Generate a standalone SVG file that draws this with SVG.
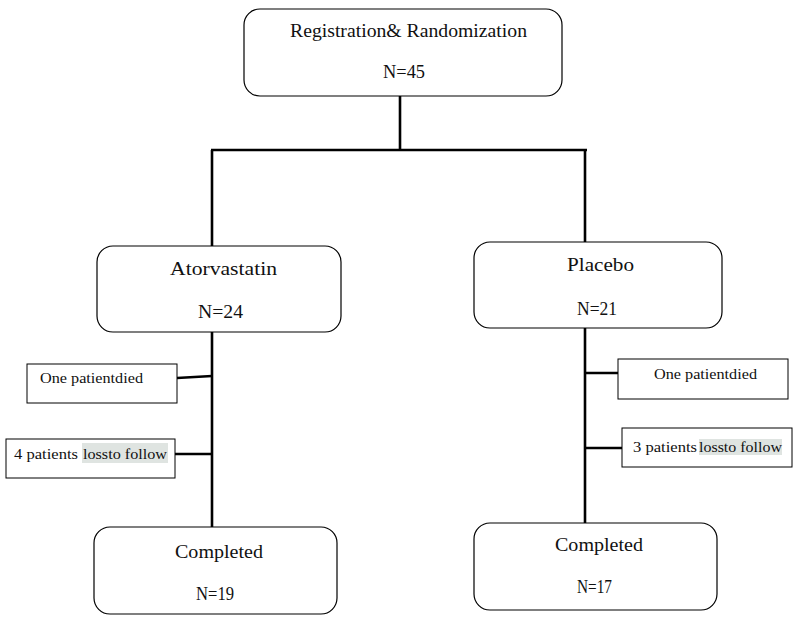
<svg xmlns="http://www.w3.org/2000/svg" width="794" height="629" viewBox="0 0 794 629">
<style>
.box{fill:#fff;stroke:#000;stroke-width:1.2}
.side{fill:#fff;stroke:#000;stroke-width:1}
.big{font-family:"Liberation Serif","DejaVu Serif",serif;font-size:18px;fill:#111}
.small{font-family:"Liberation Serif","DejaVu Serif",serif;font-size:15px;fill:#111}
.hl{fill:#dfe4e1}
.conn{stroke:#000;stroke-width:2.6;fill:none}
</style>
<rect width="794" height="629" fill="#fff"/>
<g id="connectors">
<line class="conn" x1="400" y1="96" x2="400" y2="150"/>
<line class="conn" x1="211" y1="150" x2="587" y2="150"/>
<line class="conn" x1="212" y1="150" x2="212" y2="246"/>
<line class="conn" x1="585" y1="150" x2="585" y2="242"/>
<line class="conn" x1="212" y1="332" x2="212" y2="527"/>
<line class="conn" x1="585" y1="328" x2="585" y2="523"/>
<line class="conn" x1="177" y1="378" x2="212" y2="376"/>
<line class="conn" x1="175" y1="454" x2="212" y2="454"/>
<line class="conn" x1="585" y1="373" x2="618" y2="373"/>
<line class="conn" x1="585" y1="448" x2="622" y2="448"/>
</g>
<g id="registration">
<rect class="box" x="244" y="9" width="318" height="87" rx="16"/>
<text class="big" x="290" y="37" textLength="237" lengthAdjust="spacingAndGlyphs">Registration&amp; Randomization</text>
<text class="big" x="383" y="78" textLength="42" lengthAdjust="spacingAndGlyphs">N=45</text>
</g>
<g id="atorvastatin">
<rect class="box" x="97" y="246" width="244" height="86" rx="16"/>
<text class="big" x="170" y="275" textLength="107" lengthAdjust="spacingAndGlyphs">Atorvastatin</text>
<text class="big" x="198" y="318" textLength="45" lengthAdjust="spacingAndGlyphs">N=24</text>
</g>
<g id="placebo">
<rect class="box" x="474" y="242" width="248" height="86" rx="16"/>
<text class="big" x="567" y="271" textLength="67" lengthAdjust="spacingAndGlyphs">Placebo</text>
<text class="big" x="577" y="315" textLength="40" lengthAdjust="spacingAndGlyphs">N=21</text>
</g>
<g id="died-left">
<rect class="side" x="27" y="364" width="150" height="39"/>
<text class="small" x="40" y="383" textLength="103" lengthAdjust="spacingAndGlyphs">One patientdied</text>
</g>
<g id="loss-left">
<rect class="side" x="6" y="439" width="169" height="39"/>
<rect class="hl" x="82" y="443" width="86" height="20"/>
<text class="small" x="14" y="459" textLength="64" lengthAdjust="spacingAndGlyphs">4 patients</text>
<text class="small" x="83" y="459" textLength="84" lengthAdjust="spacingAndGlyphs">lossto follow</text>
</g>
<g id="died-right">
<rect class="side" x="618" y="359" width="170" height="40"/>
<text class="small" x="654" y="379" textLength="103" lengthAdjust="spacingAndGlyphs">One patientdied</text>
</g>
<g id="loss-right">
<rect class="side" x="622" y="428" width="170" height="39"/>
<rect class="hl" x="699" y="439" width="83" height="16"/>
<text class="small" x="633" y="452" textLength="64" lengthAdjust="spacingAndGlyphs">3 patients</text>
<text class="small" x="699" y="452" textLength="83" lengthAdjust="spacingAndGlyphs">lossto follow</text>
</g>
<g id="completed-left">
<rect class="box" x="94" y="527" width="243" height="87" rx="16"/>
<text class="big" x="175" y="558" textLength="88" lengthAdjust="spacingAndGlyphs">Completed</text>
<text class="big" x="196" y="600" textLength="38" lengthAdjust="spacingAndGlyphs">N=19</text>
</g>
<g id="completed-right">
<rect class="box" x="474" y="523" width="243" height="87" rx="16"/>
<text class="big" x="555" y="551" textLength="88" lengthAdjust="spacingAndGlyphs">Completed</text>
<text class="big" x="577" y="593" textLength="35" lengthAdjust="spacingAndGlyphs">N=17</text>
</g>
</svg>
